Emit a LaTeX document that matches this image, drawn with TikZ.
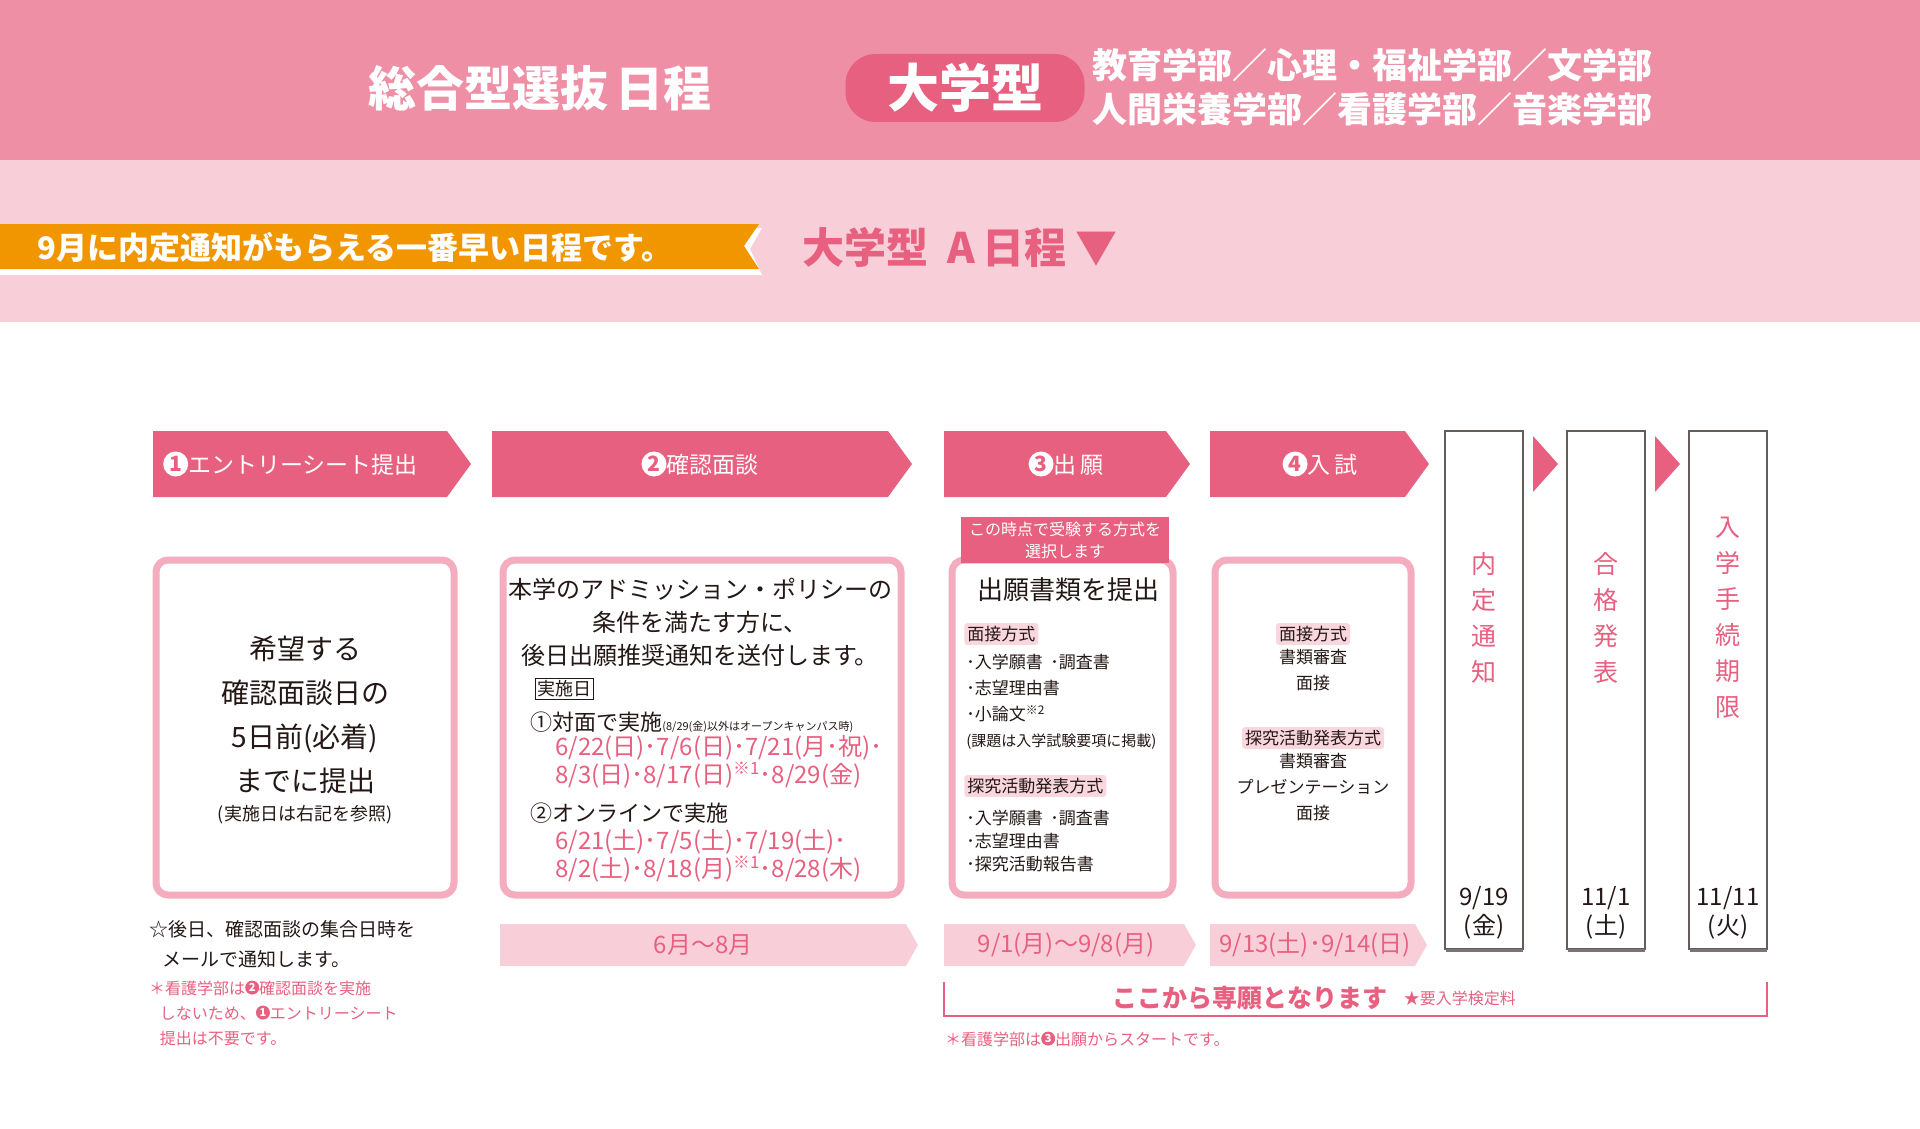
\documentclass[tikz,border=0pt]{standalone}
\usepackage{fontspec}
\setmainfont{Noto Sans CJK JP}
\usetikzlibrary{positioning}
\definecolor{hdrpink}{RGB}{238,143,166}
\definecolor{palepink}{RGB}{248,207,217}
\definecolor{rosered}{RGB}{232,96,127}
\definecolor{boxpink}{RGB}{244,173,191}
\definecolor{tagpink}{RGB}{250,214,223}
\definecolor{orangeband}{RGB}{242,150,0}
\definecolor{inkgray}{RGB}{35,24,21}
\newcommand\cnum[1]{\tikz[baseline=-0.75ex]\node[circle,fill=white,inner sep=0.5pt,minimum size=25pt,text=rosered,font=\fontsize{21}{21}\selectfont\bfseries]{#1};}
\newcommand\snum[1]{\tikz[baseline=-0.75ex]\node[circle,fill=rosered,inner sep=0pt,minimum size=14pt,text=white,font=\fontsize{11}{11}\selectfont\bfseries]{#1};}
\newcommand\dt{･}
\tikzset{every picture/.style={line width=0.75pt}}
\tikzset{
  stepbar/.style={fill=rosered},
  steptxt/.style={text=white,font=\fontsize{23}{23}\selectfont,inner sep=0pt},
  infobox/.style={draw=boxpink,line width=7pt,rounded corners=12pt,fill=white},
  datebar/.style={fill=palepink},
  datetxt/.style={text=rosered,font=\fontsize{24}{24}\selectfont,inner sep=0pt},
  vbox/.style={draw=inkgray!70,line width=1.2pt,fill=white},
  vtxt/.style={text=rosered,font=\fontsize{25}{36}\selectfont,align=center,text width=28pt,inner sep=0pt},
  dtxt/.style={text=inkgray,font=\fontsize{24}{29}\selectfont,align=center,inner sep=0pt},
  tag/.style={fill=tagpink,rounded corners=3pt,inner sep=3pt,text=inkgray,font=\fontsize{17}{17}\selectfont},
  body/.style={text=inkgray,inner sep=0pt},
  redtxt/.style={text=rosered,inner sep=0pt}
}
\begin{document}
\begin{tikzpicture}[x=1pt,y=1pt,yscale=-1]
\useasboundingbox (0,0) rectangle (1920,1129);

%header bands
\fill[hdrpink] (0,0) rectangle (1920,160);
\fill[palepink] (0,160) rectangle (1920,322);
\node[text=white,font=\fontsize{48}{48}\selectfont\bfseries,inner sep=0pt] (title) at (540,88) {総合型選抜\,日程};
\node[fill=rosered,rounded corners=30pt,minimum width=239pt,minimum height=68pt,text=white,font=\fontsize{52}{52}\selectfont\bfseries] (pill) at (965,88) {大学型};
\node[text=white,font=\fontsize{35}{44}\selectfont\bfseries,align=left,anchor=west,inner sep=0pt] (faculty) at (1092,87) {教育学部／心理・福祉学部／文学部\\人間栄養学部／看護学部／音楽学部};

%orange ribbon
\fill[white] (0,228) -- (762,228) -- (750,249) -- (762,275) -- (0,275) -- cycle;
\fill[orangeband] (0,224) -- (759,224) -- (744,246) -- (759,269) -- (0,269) -- cycle;
\node[text=white,font=\fontsize{31}{31}\selectfont\bfseries,anchor=west,inner sep=0pt] (ribbon) at (37,247) {9月に内定通知がもらえる一番早い日程です。};
\node[text=rosered,font=\fontsize{42}{42}\selectfont\bfseries,anchor=west,inner sep=0pt] (course) at (802,247) {大学型\ \ A\,日程\ ▼};

%step arrows
\fill[stepbar] (153,431) -- (447,431) -- (471,464) -- (447,497) -- (153,497) -- cycle;
\fill[stepbar] (492,431) -- (888,431) -- (912,464) -- (888,497) -- (492,497) -- cycle;
\fill[stepbar] (944,431) -- (1166,431) -- (1190,464) -- (1166,497) -- (944,497) -- cycle;
\fill[stepbar] (1210,431) -- (1405,431) -- (1429,464) -- (1405,497) -- (1210,497) -- cycle;
\node[steptxt,anchor=west] (s1) at (163,464) {\cnum{1}エントリーシート提出};
\node[steptxt] (s2) at (700,464) {\cnum{2}確認面談};
\node[steptxt] (s3) at (1066,464) {\cnum{3}出\,願};
\node[steptxt] (s4) at (1320,464) {\cnum{4}入\,試};

%final milestones
\foreach \x/\dte/\dy [count=\i] in {1445/9\slash19/金, 1567/11\slash1/土, 1689/11\slash11/火}{
  \draw[vbox] (\x,431) rectangle ++(78,518);
  \fill[inkgray!60] (\x+1,949) rectangle ++(77,3);
  \node[dtxt] (d\i) at (\x+39,913) {\dte\\(\dy)};
}
\node[vtxt] (v1) at (1484,618) {内\\定\\通\\知};
\node[vtxt] (v2) at (1606,618) {合\\格\\発\\表};
\node[vtxt] (v3) at (1728,618) {入\\学\\手\\続\\期\\限};
\fill[rosered] (1533,436) -- (1558,464) -- (1533,492) -- cycle;
\fill[rosered] (1655,436) -- (1680,464) -- (1655,492) -- cycle;

%content boxes
\draw[infobox] (156,560) rectangle (454,895);
\draw[infobox] (503,560) rectangle (901,895);
\draw[infobox] (952,560) rectangle (1173,895);
\draw[infobox] (1215,560) rectangle (1411,895);

%box 1
\node[body,font=\fontsize{28}{44}\selectfont,align=center] (b1) at (305,715) {希望する\\確認面談日の\\5日前(必着)\\までに提出};
\node[body,font=\fontsize{18}{18}\selectfont] (b1n) at (305,815) {(実施日は右記を参照)};

%box 2
\node[body,font=\fontsize{24}{33}\selectfont,align=center] (b2) at (700,622) {本学のアドミッション・ポリシーの\\条件を満たす方に、\\後日出願推奨通知を送付します。};
\node[draw=inkgray,line width=1pt,inner sep=2pt,text=inkgray,font=\fontsize{18}{18}\selectfont] (jday) at (564,689) {実施日};
\node[body,anchor=west,font=\fontsize{22}{22}\selectfont] (way1) at (530,722) {①対面で実施\fontsize{11}{11}\selectfont(8/29(金)以外はオープンキャンパス時)};
\node[redtxt,anchor=west,font=\fontsize{24}{28}\selectfont,align=left] (day1) at (555,762) {6/22(日)\dt 7/6(日)\dt 7/21(月\dt 祝)\dt\\8/3(日)\dt 8/17(日)\textsuperscript{※1}\dt 8/29(金)};
\node[body,anchor=west,font=\fontsize{22}{22}\selectfont] (way2) at (530,813) {②オンラインで実施};
\node[redtxt,anchor=west,font=\fontsize{24}{28}\selectfont,align=left] (day2) at (555,856) {6/21(土)\dt 7/5(土)\dt 7/19(土)\dt\\8/2(土)\dt 8/18(月)\textsuperscript{※1}\dt 8/28(木)};

%box 3
\node[fill=rosered,minimum width=208pt,minimum height=46pt,text=white,font=\fontsize{16}{22}\selectfont,align=center,inner sep=0pt] (choose) at (1065,540) {この時点で受験する方式を\\選択します};
\node[body,font=\fontsize{26}{26}\selectfont] (b3) at (1068,590) {出願書類を提出};
\node[tag,anchor=west] (t31) at (964,634) {面接方式};
\node[body,anchor=west,font=\fontsize{17}{26}\selectfont,align=left] (l31) at (966,702) {\dt 入学願書\ \ \dt 調査書\\\dt 志望理由書\\\dt 小論文\textsuperscript{※2}\\\fontsize{15}{15}\selectfont (課題は入学試験要項に掲載)};
\node[tag,anchor=west] (t32) at (964,786) {探究活動発表方式};
\node[body,anchor=west,font=\fontsize{17}{23}\selectfont,align=left] (l32) at (966,841) {\dt 入学願書\ \ \dt 調査書\\\dt 志望理由書\\\dt 探究活動報告書};

%box 4
\node[tag] (t41) at (1313,634) {面接方式};
\node[body,below=4pt of t41,font=\fontsize{17}{26}\selectfont,align=center] (l41) {書類審査\\面接};
\node[tag] (t42) at (1313,738) {探究活動発表方式};
\node[body,below=4pt of t42,font=\fontsize{17}{26}\selectfont,align=center] (l42) {書類審査\\プレゼンテーション\\面接};

%date bars
\fill[datebar] (500,924) -- (906,924) -- (918,945) -- (906,966) -- (500,966) -- cycle;
\fill[datebar] (944,924) -- (1184,924) -- (1196,945) -- (1184,966) -- (944,966) -- cycle;
\fill[datebar] (1210,924) -- (1415,924) -- (1427,945) -- (1415,966) -- (1210,966) -- cycle;
\node[datetxt] (p2) at (703,945) {6月〜8月};
\node[datetxt] (p3) at (1066,945) {9/1(月)〜9/8(月)};
\node[datetxt] (p4) at (1315,945) {9/13(土)\dt 9/14(日)};

%exclusive bracket
\draw[rosered,line width=2pt] (944,982) -- (944,1016) -- (1767,1016) -- (1767,982);
\node[redtxt,font=\fontsize{25}{25}\selectfont\bfseries] (excl) at (1250,998) {ここから専願となります};
\node[redtxt,right=16pt of excl,font=\fontsize{16}{16}\selectfont] (fee) {★要入学検定料};

%notes
\node[body,anchor=west,font=\fontsize{19}{30}\selectfont,align=left] (n1) at (149,944) {☆後日、確認面談の集合日時を\\\ \ \ メールで通知します。};
\node[redtxt,anchor=west,font=\fontsize{16}{25}\selectfont,align=left] (n2) at (149,1013) {＊看護学部は\snum{2}確認面談を実施\\\ \ \ しないため、\snum{1}エントリーシート\\\ \ \ 提出は不要です。};
\node[redtxt,anchor=west,font=\fontsize{16}{16}\selectfont] (n3) at (945,1039) {＊看護学部は\snum{3}出願からスタートです。};
\end{tikzpicture}
\end{document}
